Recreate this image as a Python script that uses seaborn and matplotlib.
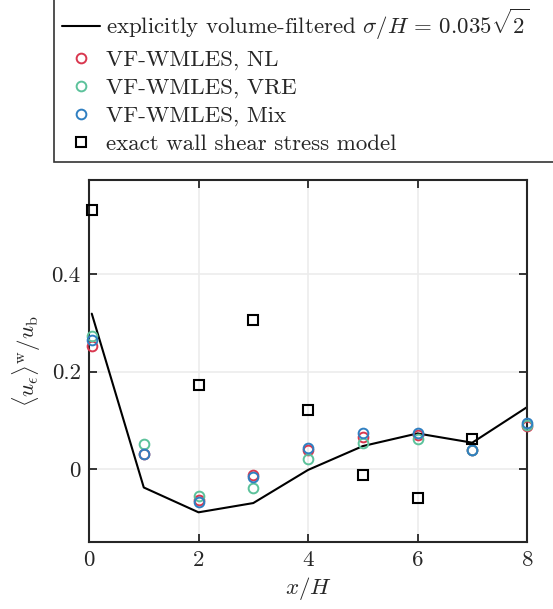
import numpy as np
import pandas as pd
import matplotlib
matplotlib.use("Agg")
import matplotlib.pyplot as plt
import seaborn as sns

# data
x_filt = [0.05, 1, 2, 3, 4, 5, 6, 7, 8]
u_filt = [0.319, -0.038, -0.089, -0.070, -0.002, 0.047, 0.073, 0.054, 0.127]

x_pts = [0.05, 1, 2, 3, 4, 5, 6, 7, 8]
u_nl = [0.252, 0.031, -0.064, -0.012, 0.040, 0.066, 0.070, 0.039, 0.088]
u_vre = [0.273, 0.051, -0.055, -0.040, 0.021, 0.054, 0.062, 0.038, 0.091]
u_mix = [0.265, 0.031, -0.067, -0.017, 0.044, 0.073, 0.073, 0.039, 0.094]

x_exact = [0.05, 2, 3, 4, 5, 6, 7]
u_exact = [0.531, 0.172, 0.306, 0.122, -0.013, -0.060, 0.062]

labels = ["VF-WMLES, NL", "VF-WMLES, VRE", "VF-WMLES, Mix"]
colors = ["#d9374f", "#5cc29b", "#2f7fc1"]

sns.set_style("ticks")
plt.rcParams["font.family"] = "serif"
plt.rcParams["font.serif"] = ["cmr10"]
plt.rcParams["mathtext.fontset"] = "cm"
plt.rcParams["axes.unicode_minus"] = False
plt.rcParams["axes.formatter.use_mathtext"] = True

df = pd.DataFrame({
    "x": x_pts * 3,
    "u": u_nl + u_vre + u_mix,
    "case": [labels[0]] * 9 + [labels[1]] * 9 + [labels[2]] * 9,
})

fig = plt.figure(figsize=(5.53, 6.09), dpi=100)
ax = fig.add_axes([0.161, 0.110, 0.792, 0.594])

sns.lineplot(x=x_filt, y=u_filt, color="black", lw=1.5, ax=ax,
             label=r"explicitly volume-filtered $\sigma/H\,=\,0.035\sqrt{2}$")
for lab, c in zip(labels, colors):
    sub = df[df["case"] == lab]
    ax.plot(sub["x"], sub["u"], ls="none", marker="o", ms=7, mfc="none",
            mec=c, mew=1.4, label=lab, clip_on=False, zorder=3)
ax.plot(x_exact, u_exact, ls="none", marker="s", ms=7, mfc="none",
        mec="black", mew=1.5, label="exact wall shear stress model",
        clip_on=False, zorder=3)

ax.set_xlim(0, 8)
ax.set_ylim(-0.15, 0.593)
ax.set_xticks([0, 2, 4, 6, 8])
ax.set_yticks([0, 0.2, 0.4])
ax.set_yticklabels(["0", "0.2", "0.4"])
ax.grid(True, color="#ececec", lw=1.2)
ax.set_axisbelow(True)
ax.tick_params(direction="in", top=True, right=True, length=6, width=1.3,
               labelsize=16.5, pad=6)
for s in ax.spines.values():
    s.set_linewidth(1.5)
ax.set_xlabel(r"$x/H$", fontsize=16.5, labelpad=4)
ax.set_ylabel(r"$\langle u_\epsilon\rangle^{\rm w}/u_{\rm b}$", fontsize=16.5,
              labelpad=6)

# legend box runs off the right and top edges, as in the reference
leg = ax.legend(loc="lower left",
                bbox_to_anchor=(54 / 553, (609 - 162) / 609, 0.95, 0.1),
                bbox_transform=fig.transFigure, borderaxespad=0, mode="expand",
                fontsize=16.5, frameon=True, fancybox=False, handlelength=1.65,
                handletextpad=0.28, labelspacing=0.33, borderpad=0.35)
leg.get_frame().set_edgecolor("black")
leg.get_frame().set_linewidth(1.2)

fig.savefig("out.png", dpi=100)
